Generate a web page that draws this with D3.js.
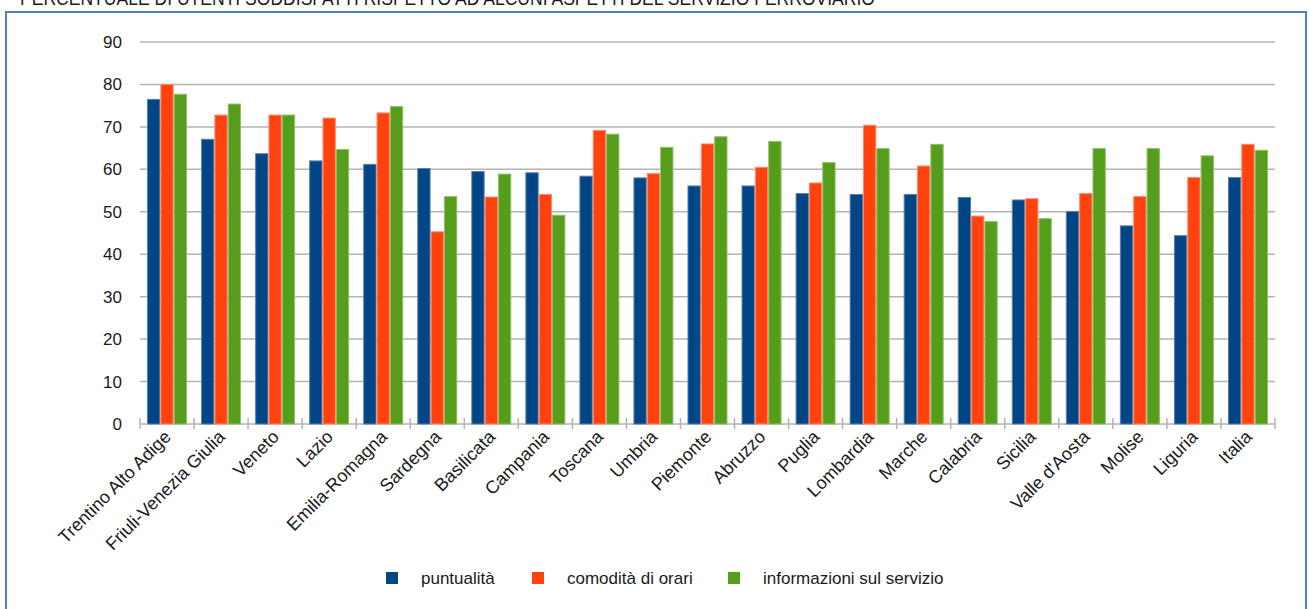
<!DOCTYPE html>
<html>
<head>
<meta charset="utf-8">
<script src="https://cdn.jsdelivr.net/npm/d3@7"></script>
<style>
  body { margin: 0; background: #fff; }
  svg text { font-family: "Liberation Sans", Arial, sans-serif; fill: #1a1a1a; }
</style>
</head>
<body>
<div id="chart"></div>
<script>
const regions = ["Trentino Alto Adige", "Friuli-Venezia Giulia", "Veneto", "Lazio", "Emilia-Romagna",
  "Sardegna", "Basilicata", "Campania", "Toscana", "Umbria", "Piemonte", "Abruzzo", "Puglia",
  "Lombardia", "Marche", "Calabria", "Sicilia", "Valle d'Aosta", "Molise", "Liguria", "Italia"];

const puntualita = [76.6, 67.2, 63.8, 62.1, 61.3, 60.3, 59.6, 59.3, 58.5, 58.1, 56.2, 56.2, 54.4,
  54.2, 54.2, 53.5, 52.9, 50.2, 46.8, 44.5, 58.2];
const comodita = [80.1, 72.9, 72.9, 72.2, 73.4, 45.4, 53.6, 54.2, 69.3, 59.1, 66.1, 60.6, 56.9,
  70.5, 60.9, 49.1, 53.2, 54.4, 53.7, 58.2, 66.0];
const informazioni = [77.8, 75.5, 72.9, 64.8, 74.9, 53.7, 59.0, 49.3, 68.4, 65.3, 67.8, 66.7, 61.7,
  65.0, 66.0, 47.8, 48.5, 65.0, 65.0, 63.3, 64.6];

const seriesNames = ["puntualità", "comodità di orari", "informazioni sul servizio"];
const seriesColors = ["#004586", "#ff420e", "#579d1c"];
const seriesStroke = ["#5b7fa8", "#ff8a6a", "#8fc068"];
const yTicks = [0, 10, 20, 30, 40, 50, 60, 70, 80, 90];
const title = "PERCENTUALE DI UTENTI SODDISFATTI RISPETTO AD ALCUNI ASPETTI DEL SERVIZIO FERROVIARIO";

const W = 1309, H = 609;
const margin = { top: 42, right: 34, bottom: 185, left: 140 };
const width = W - margin.left - margin.right,
      height = H - margin.top - margin.bottom;

const svg = d3.select("#chart").append("svg")
  .attr("width", W).attr("height", H);

// frame
svg.append("rect")
  .attr("x", 6).attr("y", 12)
  .attr("width", 1300).attr("height", 610)
  .attr("fill", "none").attr("stroke", "#4f81bd").attr("stroke-width", 2);

// title (cut at the top edge, as in the source)
svg.append("text")
  .attr("x", 20).attr("y", 5)
  .attr("font-size", 20)
  .attr("textLength", 855)
  .attr("lengthAdjust", "spacingAndGlyphs")
  .text(title);

const g = svg.append("g").attr("transform", `translate(${margin.left},${margin.top})`);

const x0 = d3.scaleBand().domain(regions).range([0, width]).paddingInner(0.26).paddingOuter(0.13);
const x1 = d3.scaleBand().domain([0, 1, 2]).range([0, x0.bandwidth()]);
const y = d3.scaleLinear().domain([0, 90]).range([height, 0]);

// gridlines
g.append("g")
  .selectAll("line").data(yTicks).join("line")
  .attr("x1", 0).attr("x2", width)
  .attr("y1", d => y(d)).attr("y2", d => y(d))
  .attr("stroke", "#b3b3b3").attr("stroke-width", 1.5);

// y labels
g.append("g").selectAll("text").data(yTicks).join("text")
  .attr("x", -18).attr("y", d => y(d)).attr("dy", "0.35em")
  .attr("text-anchor", "end").attr("font-size", 17)
  .text(d => d);

// category boundary ticks
const step = width / regions.length;
g.append("g").selectAll("line").data(d3.range(regions.length + 1)).join("line")
  .attr("x1", i => i * step).attr("x2", i => i * step)
  .attr("y1", height - 6).attr("y2", height + 5)
  .attr("stroke", "#b3b3b3").attr("stroke-width", 1.5);

const data = regions.map((r, i) => ({ region: r, vals: [puntualita[i], comodita[i], informazioni[i]] }));

const groups = g.append("g").selectAll("g").data(data).join("g")
  .attr("transform", d => `translate(${x0(d.region)},0)`);

groups.selectAll("rect").data(d => d.vals.map((v, k) => ({ v, k }))).join("rect")
  .attr("x", d => x1(d.k) + 0.5)
  .attr("y", d => y(d.v) + 0.5)
  .attr("width", x1.bandwidth() - 1)
  .attr("height", d => height - y(d.v) - 0.5)
  .attr("fill", d => seriesColors[d.k])
  .attr("stroke", d => seriesStroke[d.k])
  .attr("stroke-width", 1);

// x labels
g.append("g").selectAll("text").data(regions).join("text")
  .attr("font-size", 18)
  .attr("text-anchor", "end")
  .attr("transform", d => `translate(${x0(d) + x0.bandwidth() / 2 + 5},${height + 14}) rotate(-45)`)
  .text(d => d);

// legend
const legendX = [386, 532, 728];
const legend = svg.append("g").selectAll("g").data(seriesNames).join("g")
  .attr("transform", (d, i) => `translate(${legendX[i]},572)`);
legend.append("rect").attr("width", 12).attr("height", 12)
  .attr("fill", (d, i) => seriesColors[i]);
legend.append("text").attr("x", 35).attr("y", 6).attr("dy", "0.35em")
  .attr("font-size", 17)
  .text(d => d);
</script>
</body>
</html>
